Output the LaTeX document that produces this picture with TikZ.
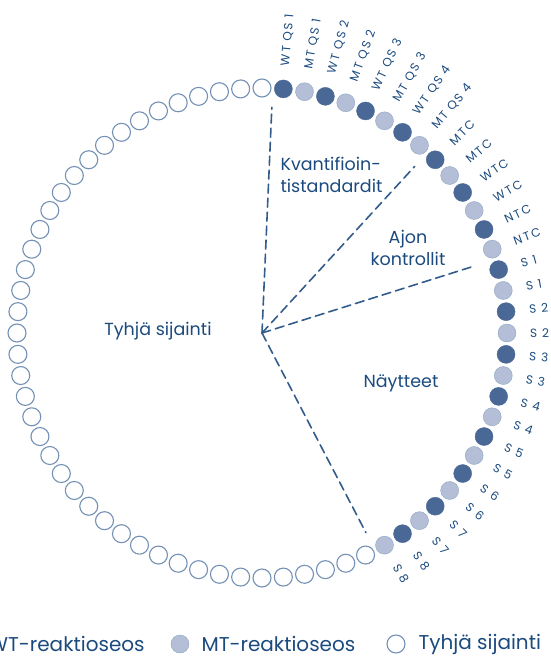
\documentclass[tikz,border=0pt]{standalone}
\usepackage{fontspec}
\setmainfont{Poppins}
\definecolor{wtblue}{HTML}{4A6896}
\definecolor{mtblue}{HTML}{B4BED6}
\definecolor{rimblue}{HTML}{7390B5}
\definecolor{inkblue}{HTML}{1B4A7E}
\begin{document}
\begin{tikzpicture}[x=1pt, y=1pt, line cap=round, line join=round, font=\fontsize{17.5}{22}\selectfont, text=inkblue]
	\tikzset{wtwell/.style={circle, minimum size=18pt, inner sep=0pt, fill=wtblue, draw=wtblue},
		mtwell/.style={circle, minimum size=18pt, inner sep=0pt, fill=mtblue, draw=rimblue!80},
		freewell/.style={circle, minimum size=18pt, inner sep=0pt, fill=white, draw=rimblue, line width=1.1pt},
		welllabel/.style={font=\fontsize{12}{14}\selectfont\addfontfeature{LetterSpace=15}, anchor=west, inner sep=0pt},
		legendtext/.style={anchor=west, inner ysep=1pt, font=\fontsize{20}{24}\selectfont},
		divider/.style={draw=inkblue!90, line width=1.6pt, dash pattern=on 9pt off 5pt}}
	\useasboundingbox (-262,-326) rectangle (289,333);
	\coordinate (c) at (0,0);
	% empty positions
	\foreach \i in {0,...,41}
		\node[freewell] (e\i) at (90+5*\i:245) {};
	% loaded positions
	\foreach \lab [count=\i from 0] in {WT QS 1, MT QS 1, WT QS 2, MT QS 2, WT QS 3, MT QS 3, WT QS 4, MT QS 4, MTC, MTC, WTC, WTC, NTC, NTC, S 1, S 1, S 2, S 2, S 3, S 3, S 4, S 4, S 5, S 5, S 6, S 6, S 7, S 7, S 8, S 8}{
		\pgfmathsetmacro{\ang}{85-5*\i}
		\ifodd\i \def\kind{mtwell}\else \def\kind{wtwell}\fi
		\node[\kind] (w\i) at (\ang:245) {};
		\node[welllabel, rotate=\ang] (l\i) at (\ang:268) {\lab};
	}
	\coordinate (d1) at (87.5:226);
	\coordinate (d2) at (47.5:226);
	\coordinate (d3) at (17.5:224);
	\coordinate (d4) at (-62.5:225);
	\foreach \d in {d1,d2,d3,d4}
		\draw[divider] (c) -- (\d);
	\node[anchor=west, align=left] (quant) at (15,158) {Kvantifioin-\\tistandardit};
	\node[align=center] (ctrl) at (146,85) {Ajon\\kontrollit};
	\node (samp) at (139,-50) {Näytteet};
	\node (free) at (-104,2) {Tyhjä sijainti};
	% legend
	\node[wtwell] (k1) at (-295,-311) {};
	\node[legendtext] (t1) at (-277,-311) {WT-reaktioseos};
	\node[mtwell] (k2) at (-82,-311) {};
	\node[legendtext] (t2) at (-64,-311) {MT-reaktioseos};
	\node[freewell] (k3) at (134,-311) {};
	\node[legendtext] (t3) at (153,-311) {Tyhjä sijainti};
\end{tikzpicture}
\end{document}
